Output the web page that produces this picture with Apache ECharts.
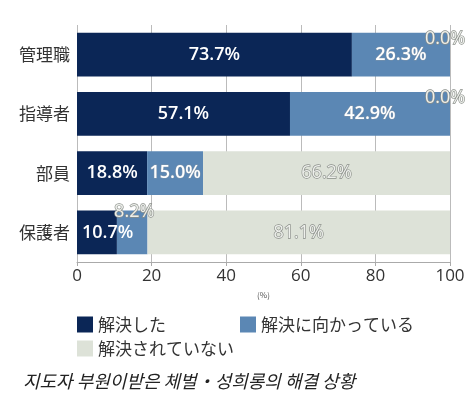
<!DOCTYPE html>
<html>
<head>
<meta charset="utf-8">
<script src="https://cdn.jsdelivr.net/npm/echarts@6/dist/echarts.min.js"></script>
<style>
  html, body { margin: 0; padding: 0; background: #fff; }
  #chart { width: 475px; height: 404px; }
</style>
</head>
<body>
<div id="chart"></div>
<script>
var categories = ["管理職", "指導者", "部員", "保護者"];
var seriesNames = ["解決した", "解決に向かっている", "解決されていない"];
var resolved = [73.7, 57.1, 18.8, 10.7];
var inProgress = [26.3, 42.9, 15.0, 8.2];
var unresolved = [0.0, 0.0, 66.2, 81.1];
var xTicks = [0, 20, 40, 60, 80, 100];

var cjk = '"Noto Sans CJK JP", "Noto Sans", sans-serif';
var num = '"Open Sans", sans-serif';

// outlined label used where the reference prints grey-edged text
var outlined = {
    color: "#eef0ec",
    fontWeight: "normal",
    textBorderColor: "#8a8e89",
    textBorderWidth: 1.3
};

function pct(p) {
    return p.value.toFixed(1) + "%";
}

function build_resolved(values) {
    return values.map(function (v) {
        if (v < 15) {
            return {value: v, label: {position: "insideLeft", distance: 5}};
        }
        return v;
    });
}

function build_in_progress(values) {
    return values.map(function (v) {
        if (v < 10) {
            var lab = Object.assign({position: "insideTop", offset: [2, -13]}, outlined);
            return {value: v, label: lab};
        }
        return v;
    });
}

function build_unresolved(values) {
    return values.map(function (v) {
        if (v === 0) {
            var lab = Object.assign({position: "insideTop", offset: [-5, -3], distance: 0}, outlined);
            return {value: v, label: lab};
        }
        return v;
    });
}

var option = {
    animation: false,
    title: {
        text: "지도자 부원이받은 체벌・성희롱의 해결 상황",
        left: 18,
        top: 367,
        textStyle: {
            fontFamily: '"Noto Sans CJK KR", sans-serif',
            fontStyle: "italic",
            fontWeight: "normal",
            fontSize: 18,
            color: "#222"
        }
    },
    legend: [{
        data: [seriesNames[0], seriesNames[1]],
        left: 72,
        top: 311,
        itemWidth: 16,
        itemHeight: 16,
        itemGap: 74,
        icon: "rect",
        textStyle: {fontFamily: cjk, fontSize: 17, color: "#333"}
    }, {
        data: [seriesNames[2]],
        left: 72,
        top: 335,
        itemWidth: 16,
        itemHeight: 16,
        icon: "rect",
        textStyle: {fontFamily: cjk, fontSize: 17, color: "#333"}
    }],
    grid: {left: 77, right: 25, top: 25, bottom: 142},
    xAxis: {
        type: "value",
        min: xTicks[0],
        max: xTicks[xTicks.length - 1],
        interval: 20,
        name: "(%)",
        nameLocation: "middle",
        nameGap: 29,
        nameTextStyle: {fontSize: 8, color: "#555", fontFamily: cjk},
        axisLine: {show: true, lineStyle: {color: "#aaa"}},
        axisTick: {show: true, length: 4, lineStyle: {color: "#aaa"}},
        axisLabel: {fontSize: 17, color: "#333", margin: 6, fontFamily: num},
        splitLine: {lineStyle: {color: "#bbb"}}
    },
    yAxis: {
        type: "category",
        data: categories,
        inverse: true,
        axisLine: {show: false},
        axisTick: {show: false},
        axisLabel: {fontSize: 17, color: "#333", margin: 7, fontFamily: cjk}
    },
    series: [{
        name: seriesNames[0],
        type: "bar",
        stack: "total",
        barWidth: "74%",
        itemStyle: {color: "#0b2656"},
        label: {
            show: true,
            position: "inside",
            formatter: pct,
            color: "#fff",
            fontSize: 18,
            fontWeight: 600,
            fontFamily: num
        },
        data: build_resolved(resolved)
    }, {
        name: seriesNames[1],
        type: "bar",
        stack: "total",
        itemStyle: {color: "#5b87b4"},
        label: {
            show: true,
            position: "inside",
            formatter: pct,
            color: "#fff",
            fontSize: 18,
            fontWeight: 600,
            textBorderColor: "#7f93a8",
            textBorderWidth: 1,
            fontFamily: num
        },
        data: build_in_progress(inProgress)
    }, {
        name: seriesNames[2],
        type: "bar",
        stack: "total",
        itemStyle: {color: "#dde2d8"},
        label: Object.assign({
            show: true,
            position: "inside",
            formatter: pct,
            fontSize: 18,
            fontFamily: num
        }, outlined),
        data: build_unresolved(unresolved)
    }]
};

var chart = echarts.init(document.getElementById("chart"));
chart.setOption(option);
</script>
</body>
</html>
